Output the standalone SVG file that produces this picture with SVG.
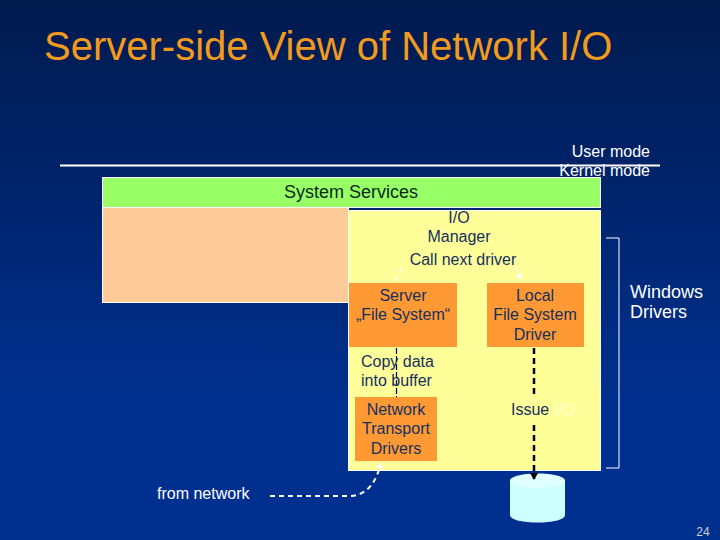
<svg xmlns="http://www.w3.org/2000/svg" width="720" height="540" viewBox="0 0 720 540">
<style>
text{font-family:"Liberation Sans",Arial,sans-serif}
.dark{fill:#14305f;font-size:16px;text-anchor:middle}
.box{fill:#ff9933}
.white{fill:#fff;font-size:16px}
.wd{fill:none;stroke:#fff;stroke-width:2;stroke-dasharray:5 4}
.kd{fill:none;stroke:#000;stroke-width:2.500;stroke-dasharray:6 4}
</style>
<defs>
<linearGradient id="bg" x1="0" y1="0" x2="0" y2="1"><stop offset="0" stop-color="#001a4d"/><stop offset="0.75" stop-color="#00308f"/><stop offset="1" stop-color="#00308f"/></linearGradient>
<marker id="wa" markerUnits="userSpaceOnUse" markerWidth="8" markerHeight="8" refX="6" refY="4" orient="auto"><path d="M0 1L7 4L0 7Z" fill="#fff"/></marker>
<marker id="ka" markerUnits="userSpaceOnUse" markerWidth="8" markerHeight="8" refX="6" refY="4" orient="auto"><path d="M0 0L7 4L0 8Z" fill="#000"/></marker>
</defs>
<rect width="720" height="540" fill="url(#bg)"/>
<text x="44" y="60" font-size="40" fill="#f29a1e">Server-side View of Network I/O</text>
<g id="mode-line">
<line x1="60" y1="165.500" x2="660" y2="165.500" stroke="#fff" stroke-width="2"/>
<text class="white" x="650" y="157" text-anchor="end">User mode</text>
<text class="white" x="650" y="176" text-anchor="end">Kernel mode</text>
</g>
<g id="system-services">
<rect x="102.500" y="177.500" width="498" height="30" fill="#99ff66" stroke="#fff"/>
<text x="351" y="198" font-size="18" fill="#062a20" text-anchor="middle">System Services</text>
</g>
<g id="left-panel"><rect x="102.500" y="207.500" width="246" height="95" fill="#ffcc99" stroke="#fff"/></g>
<g id="io-manager">
<rect x="348.500" y="210.500" width="252" height="260" fill="#ffff99" stroke="#fff"/>
<text class="dark" x="459" y="223">I/O</text>
<text class="dark" x="459" y="242">Manager</text>
<text class="dark" x="463" y="265">Call next driver</text>
</g>
<g id="server-fs">
<rect class="box" x="349" y="283" width="108" height="64"/>
<text class="dark" x="403" y="301">Server</text>
<text class="dark" x="403" y="320">„File System“</text>
</g>
<g id="local-fs">
<rect class="box" x="487" y="283" width="97" height="64"/>
<text class="dark" x="535" y="301">Local</text>
<text class="dark" x="535" y="320">File System</text>
<text class="dark" x="535" y="340">Driver</text>
</g>
<g id="network-transport">
<rect class="box" x="355" y="397" width="82" height="64"/>
<text class="dark" x="396" y="415">Network</text>
<text class="dark" x="396" y="434">Transport</text>
<text class="dark" x="396" y="454">Drivers</text>
</g>
<g id="disk">
<path d="M510 481C510 471 565 471 565 481V515C565 525 510 525 510 515Z" fill="#ccffff"/>
<ellipse cx="537.500" cy="481" rx="27.500" ry="7" fill="#e0ffff"/>
</g>
<g id="connectors">
<path d="M396 281Q398 273 402 267" fill="none" stroke="#fff" stroke-width="1.500" stroke-dasharray="5 4"/>
<path d="M516 267Q518 272 521 279" fill="none" stroke="#fff" stroke-width="1.500" stroke-dasharray="5 4" marker-end="url(#wa)"/>
<path d="M396.500 348V397" fill="none" stroke="#000" stroke-width="1.200" stroke-dasharray="6 2"/>
<path class="kd" d="M534 348V394"/>
<path class="kd" d="M534 425V479" marker-end="url(#ka)"/>
<path class="wd" d="M270 496H350C368 495 376 482 381 463" marker-end="url(#wa)"/>
<path d="M606 238H619V468H606" fill="none" stroke="#fff" stroke-width="1"/>
</g>
<g id="labels">
<text x="361" y="367" font-size="16" fill="#14305f">Copy data</text>
<text x="361" y="386" font-size="16" fill="#14305f">into buffer</text>
<text x="511" y="415" font-size="16" fill="#14305f">Issue <tspan fill="#ffffcc">I/O</tspan></text>
<text x="630" y="298" font-size="18" fill="#fff">Windows</text>
<text x="630" y="318" font-size="18" fill="#fff">Drivers</text>
<text class="white" x="157" y="499">from network</text>
<text x="703" y="536" font-size="12" fill="#cccccc" text-anchor="middle">24</text>
</g>
</svg>
